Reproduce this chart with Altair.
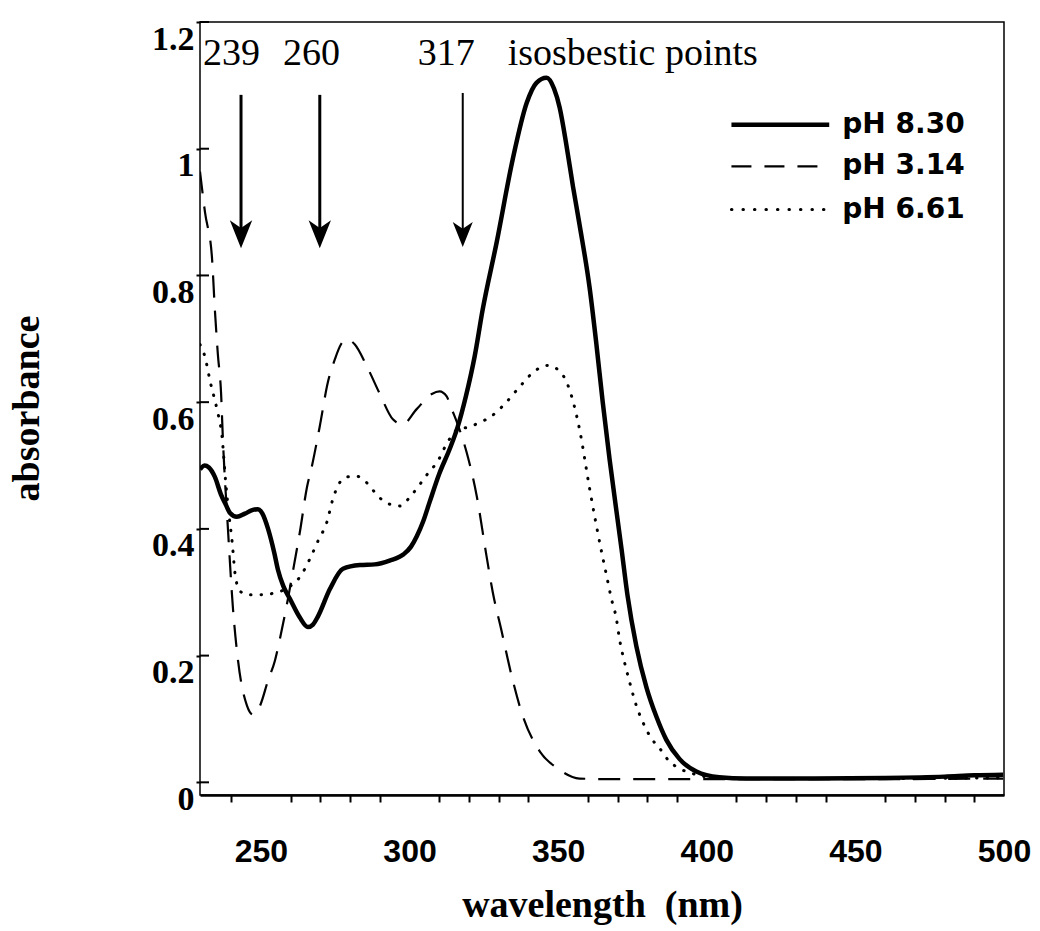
import altair as alt
import pandas as pd

# Absorption spectra: wavelength (nm) and absorbance for three pH values
ph830_nm = [229.5, 231.0, 232.5, 234.5, 236.5, 238.2, 239.6, 241.9, 244.6, 247.3,
            249.0, 250.5, 252.4, 254.5, 255.7, 257.5, 259.7, 263.1, 265.8, 267.5,
            269.2, 273.2, 277.6, 283.3, 288.3, 293.3, 298.0, 300.5, 302.4, 304.6,
            306.8, 310.0, 313.5, 316.2, 319.0, 321.9, 324.6, 329.3, 334.7, 339.4,
            342.7, 346.1, 348.6, 350.5, 352.8, 355.0, 357.2, 360.6, 362.9, 365.0,
            367.3, 371.3, 373.3, 376.3, 379.7, 383.1, 386.4, 390.8, 396.5, 404.2,
            413.3, 430.0, 460.0, 480.0, 490.0, 499.7]
ph830_abs = [0.494, 0.500, 0.497, 0.482, 0.455, 0.438, 0.425, 0.419, 0.424, 0.430,
             0.431, 0.424, 0.400, 0.362, 0.336, 0.310, 0.290, 0.260, 0.245, 0.249,
             0.262, 0.305, 0.337, 0.343, 0.344, 0.350, 0.360, 0.372, 0.388, 0.412,
             0.443, 0.487, 0.526, 0.561, 0.610, 0.672, 0.746, 0.852, 0.983, 1.072,
             1.104, 1.112, 1.095, 1.065, 1.005, 0.940, 0.880, 0.780, 0.690, 0.600,
             0.510, 0.369, 0.296, 0.215, 0.150, 0.103, 0.067, 0.037, 0.017, 0.008,
             0.006, 0.006, 0.007, 0.009, 0.011, 0.012]

ph314_nm = [229.5, 231.2, 233.5, 234.5, 235.5, 236.6, 237.2, 238.9, 240.6, 242.3,
            245.3, 247.3, 249.7, 252.4, 254.7, 256.4, 259.1, 261.1, 263.1, 265.5,
            267.1, 269.8, 272.5, 274.9, 276.9, 278.9, 281.6, 285.6, 290.0, 294.4,
            297.7, 302.4, 307.5, 310.1, 312.5, 314.2, 316.2, 319.2, 322.6, 325.9,
            328.0, 331.0, 334.3, 338.0, 343.8, 349.8, 357.2, 368.3, 400.0, 450.0,
            499.7]
ph314_abs = [0.964, 0.899, 0.830, 0.746, 0.676, 0.613, 0.542, 0.400, 0.274, 0.192,
             0.121, 0.107, 0.121, 0.161, 0.192, 0.227, 0.290, 0.342, 0.395, 0.466,
             0.498, 0.562, 0.631, 0.668, 0.691, 0.699, 0.691, 0.657, 0.613, 0.573,
             0.565, 0.589, 0.613, 0.617, 0.609, 0.589, 0.565, 0.521, 0.452, 0.357,
             0.300, 0.238, 0.169, 0.106, 0.049, 0.022, 0.006, 0.005, 0.005, 0.005,
             0.006]

ph661_nm = [229.5, 231.2, 232.9, 235.2, 236.9, 238.2, 239.2, 240.3, 241.3, 242.9,
            245.6, 249.7, 254.7, 259.7, 263.1, 266.5, 269.2, 272.2, 274.2, 275.9,
            278.9, 282.3, 286.0, 289.3, 293.3, 296.7, 300.1, 302.8, 306.1, 309.5,
            312.8, 316.2, 320.2, 323.6, 327.0, 332.0, 337.0, 342.1, 346.4, 350.5,
            353.8, 357.2, 360.6, 364.9, 366.3, 367.9, 369.6, 370.6, 372.3, 374.0,
            376.3, 378.4, 381.4, 384.1, 387.4, 390.8, 397.5, 404.2, 450.0, 499.7]
ph661_abs = [0.691, 0.671, 0.633, 0.589, 0.546, 0.471, 0.424, 0.380, 0.329, 0.302,
             0.296, 0.296, 0.299, 0.309, 0.324, 0.353, 0.381, 0.411, 0.447, 0.468,
             0.482, 0.483, 0.471, 0.452, 0.439, 0.436, 0.450, 0.466, 0.487, 0.507,
             0.537, 0.557, 0.561, 0.568, 0.576, 0.597, 0.624, 0.649, 0.658, 0.649,
             0.620, 0.557, 0.463, 0.357, 0.326, 0.290, 0.258, 0.227, 0.190, 0.159,
             0.121, 0.096, 0.069, 0.054, 0.033, 0.022, 0.011, 0.006, 0.006, 0.007]

# Isosbestic point labels and arrows
iso_labels = ["239", "260", "317", "isosbestic points"]
iso_label_nm = [230.5, 257.4, 302.8, 333.0]
iso_label_abs = 1.132
arrow_nm = [243.3, 269.8, 317.9]
arrow_top = [1.085, 1.085, 1.088]
arrow_tip = [0.843, 0.843, 0.845]

# Legend entries
legend_labels = ["pH 8.30", "pH 3.14", "pH 6.61"]
legend_abs = [1.038, 0.972, 0.904]
legend_key_nm = [408.3, 441.2]
legend_text_nm = 445.6

x_ticks = list(range(240, 501, 10))
y_ticks = [0, 0.2, 0.4, 0.6, 0.8, 1.0, 1.2]

x_scale = alt.Scale(domain=[229.5, 500], nice=False, zero=False)
y_scale = alt.Scale(domain=[-0.02, 1.2], nice=False, zero=False)

x_axis = alt.Axis(
    values=x_ticks,
    labelExpr="datum.value % 50 === 0 ? datum.label : ''",
    tickOpacity={"condition": {"test": "datum.value % 50 === 0", "value": 0}, "value": 1},
    grid=False, domain=True, domainColor="black", domainWidth=2.5,
    ticks=True, tickColor="black", tickWidth=2, tickSize=7,
    labelFont="Liberation Sans", labelFontWeight="bold", labelFontSize=32,
    labelColor="black", labelPadding=34, labelFlush=False,
    title="wavelength\u00a0\u00a0(nm)", titleFont="Liberation Serif",
    titleFontWeight="bold", titleFontSize=38, titleColor="black",
    titleX=402, titleY=110, titleAlign="center", titleBaseline="middle",
)
y_axis = alt.Axis(
    values=y_ticks, format="~g",
    grid=False, domain=False,
    ticks=True, tickColor="black", tickWidth=2, tickSize=4,
    labelFont="Liberation Serif", labelFontWeight="bold", labelFontSize=34,
    labelColor="black", labelPadding=2, labelBaseline="top",
    title="absorbance", titleFont="Liberation Serif", titleFontWeight="bold",
    titleFontSize=38, titleColor="black", titleX=-173, titleY=386,
    titleAngle=270, titleAlign="center", titleBaseline="middle",
)

X = alt.X("nm:Q", scale=x_scale, axis=x_axis)
Y = alt.Y("A:Q", scale=y_scale, axis=y_axis)


def spectrum(nm, ab, **style):
    df = pd.DataFrame({"nm": nm, "A": ab})
    return alt.Chart(df).mark_line(color="black", interpolate="monotone",
                                   clip=True, **style).encode(x=X, y=Y)


dashed = spectrum(ph314_nm, ph314_abs, strokeWidth=2.2, strokeDash=[22, 13])
dotted = spectrum(ph661_nm, ph661_abs, strokeWidth=3, strokeDash=[0.5, 10],
                  strokeCap="round")
solid = spectrum(ph830_nm, ph830_abs, strokeWidth=4.5)

# inner halves of the y tick crosses
inner_ticks = alt.Chart(pd.DataFrame({"A": y_ticks})).mark_rule(
    color="black", strokeWidth=2
).encode(y=Y, x=alt.value(0), x2=alt.value(9))


# legend keys
def key_line(i, **style):
    df = pd.DataFrame({"nm": legend_key_nm, "A": [legend_abs[i]] * 2})
    return alt.Chart(df).mark_line(color="black", **style).encode(x=X, y=Y)


key_solid = key_line(0, strokeWidth=4.5)
key_dashed = key_line(1, strokeWidth=2.2, strokeDash=[20, 13])
key_dotted = key_line(2, strokeWidth=3, strokeDash=[0.5, 11], strokeCap="round")

legend_text = alt.Chart(pd.DataFrame({
    "nm": [legend_text_nm] * 3, "A": legend_abs, "label": legend_labels
})).mark_text(align="left", baseline="middle", font="DejaVu Sans",
              fontWeight="bold", fontSize=28, color="black").encode(
    x=X, y=Y, text="label:N")

iso_text = alt.Chart(pd.DataFrame({
    "nm": iso_label_nm, "A": [iso_label_abs] * 4, "label": iso_labels
})).mark_text(align="left", baseline="alphabetic", font="Liberation Serif",
              fontSize=38, color="black").encode(x=X, y=Y, text="label:N")

arrows_df = pd.DataFrame({
    "nm": arrow_nm, "A": arrow_top,
    "A2": [t + 0.02 for t in arrow_tip], "tip": arrow_tip,
})
arrow_shafts_thick = alt.Chart(arrows_df.iloc[:2]).mark_rule(
    color="black", strokeWidth=3).encode(x=X, y=Y, y2="A2:Q")
arrow_shaft_thin = alt.Chart(arrows_df.iloc[2:]).mark_rule(
    color="black", strokeWidth=2).encode(x=X, y=Y, y2="A2:Q")

head_shape = "M-0.8,-1L0,1L0.8,-1L0,-0.45Z"
heads_big = alt.Chart(pd.DataFrame({
    "nm": arrow_nm[:2], "A": [t + 0.022 for t in arrow_tip[:2]]
})).mark_point(shape=head_shape, filled=True, size=784, color="black",
               opacity=1, strokeWidth=0).encode(x=X, y=Y)
head_small = alt.Chart(pd.DataFrame({
    "nm": arrow_nm[2:], "A": [arrow_tip[2] + 0.0197]
})).mark_point(shape=head_shape, filled=True, size=625, color="black",
               opacity=1, strokeWidth=0).encode(x=X, y=Y)

chart = alt.layer(
    dashed, dotted, solid, inner_ticks,
    key_solid, key_dashed, key_dotted, legend_text,
    iso_text, arrow_shafts_thick, arrow_shaft_thin, heads_big, head_small,
).properties(
    width=804, height=773,
    autosize=alt.AutoSizeParams(type="none"),
    padding={"left": 200, "top": 22, "right": 36, "bottom": 136},
    background="white",
).configure_view(stroke="black", strokeWidth=1.5)

chart.save("out.html", embed_options={"renderer": "svg", "actions": False})
